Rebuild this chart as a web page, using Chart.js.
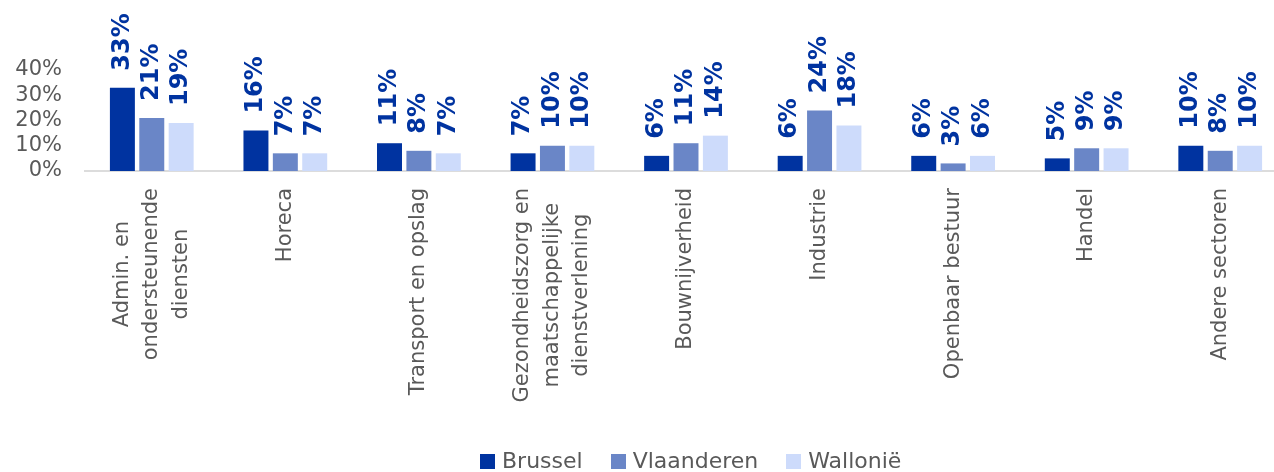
<!DOCTYPE html>
<html>
<head>
<meta charset="utf-8">
<script src="https://cdn.jsdelivr.net/npm/chart.js@4.4.0/dist/chart.umd.min.js"></script>
<style>
    html, body { margin: 0; padding: 0; background: #ffffff; overflow: hidden; }
    #wrap { position: relative; width: 1290px; height: 472px; }
    #legend {
        position: absolute; left: 480px; top: 448px;
        display: flex; align-items: center;
        font-family: "DejaVu Sans"; font-size: 22px; color: #595959; line-height: 26px;
    }
    #legend .item { display: flex; align-items: center; margin-right: 28px; }
    #legend .box { width: 15px; height: 15px; margin-right: 7px; }
</style>
</head>
<body>
<div id="wrap">
    <canvas id="chartSector"></canvas>
    <div id="legend"></div>
</div>
<script>
// sectors, one array of lines per category
const sectors = [
    ['Admin. en', 'ondersteunende', 'diensten'],
    ['Horeca'],
    ['Transport en opslag'],
    ['Gezondheidszorg en', 'maatschappelijke', 'dienstverlening'],
    ['Bouwnijverheid'],
    ['Industrie'],
    ['Openbaar bestuur'],
    ['Handel'],
    ['Andere sectoren']
];
const brussel = [33, 16, 11, 7, 6, 6, 6, 5, 10];
const vlaanderen = [21, 7, 8, 10, 11, 24, 3, 9, 8];
const wallonie = [19, 7, 7, 10, 14, 18, 6, 9, 10];
const seriesNames = ['Brussel', 'Vlaanderen', 'Wallonië'];
const colors = ['#0033a0', '#6a86c7', '#cddbfb'];

const textGrey = '#595959';

// value labels above the bars, rotated
const valueLabels = {
    id: 'valueLabels',
    afterDatasetsDraw(chart) {
        const ctx = chart.ctx;
        ctx.save();
        ctx.font = 'bold 24px "DejaVu Sans"';
        ctx.fillStyle = '#0033a0';
        ctx.textAlign = 'left';
        ctx.textBaseline = 'middle';
        chart.data.datasets.forEach((ds, i) => {
            chart.getDatasetMeta(i).data.forEach((bar, j) => {
                ctx.save();
                ctx.translate(bar.x, bar.y - 17);
                ctx.rotate(-Math.PI / 2);
                ctx.fillText(ds.data[j] + '%', 0, 0);
                ctx.restore();
            });
        });
        ctx.restore();
    }
};

// category labels: rotated, lines centred, block starting under the axis
const sectorLabels = {
    id: 'sectorLabels',
    afterDraw(chart) {
        const ctx = chart.ctx;
        const xs = chart.scales.x;
        const top = chart.chartArea.bottom + 17;
        ctx.save();
        ctx.font = '21px "DejaVu Sans"';
        ctx.fillStyle = textGrey;
        ctx.textAlign = 'center';
        ctx.textBaseline = 'middle';
        sectors.forEach((lines, i) => {
            const cx = xs.getPixelForValue(i);
            const maxW = Math.max(...lines.map(l => ctx.measureText(l).width));
            const n = lines.length;
            ctx.save();
            ctx.translate(cx, top + maxW / 2);
            ctx.rotate(-Math.PI / 2);
            lines.forEach((l, k) => ctx.fillText(l, 0, (k - (n - 1) / 2) * 29.5));
            ctx.restore();
        });
        ctx.restore();
    }
};

const ctx = document.getElementById('chartSector').getContext('2d');
const chart = new Chart(ctx, {
    type: 'bar',
    data: {
        labels: sectors.map(s => s.join(' ')),
        datasets: [brussel, vlaanderen, wallonie].map((d, i) => ({
            label: seriesNames[i],
            data: d,
            backgroundColor: colors[i],
            borderWidth: 0,
            categoryPercentage: 0.66,
            barPercentage: 0.85
        }))
    },
    options: {
        responsive: true,
        maintainAspectRatio: false,
        animation: false,
        layout: { padding: { top: 70, bottom: 301, left: 0, right: 3 } },
        plugins: {
            legend: { display: false },
            tooltip: { enabled: false }
        },
        scales: {
            x: {
                grid: { display: false, drawTicks: false },
                border: { display: true, color: '#dcdcdc', width: 2 },
                ticks: { display: false }
            },
            y: {
                min: 0,
                max: 40,
                grid: { display: false, drawTicks: false },
                border: { display: false },
                ticks: {
                    stepSize: 10,
                    autoSkip: false,
                    padding: 23,
                    color: textGrey,
                    font: { family: 'DejaVu Sans', size: 21, lineHeight: 1 },
                    callback: v => v + '%'
                },
                afterFit(scale) { scale.width = 85; }
            }
        }
    },
    plugins: [valueLabels, sectorLabels]
});

// legend
const legend = document.getElementById('legend');
seriesNames.forEach((name, i) => {
    const item = document.createElement('div');
    item.className = 'item';
    item.innerHTML = `<span class="box" style="background:${colors[i]}"></span><span>${name}</span>`;
    legend.appendChild(item);
});
</script>
</body>
</html>
